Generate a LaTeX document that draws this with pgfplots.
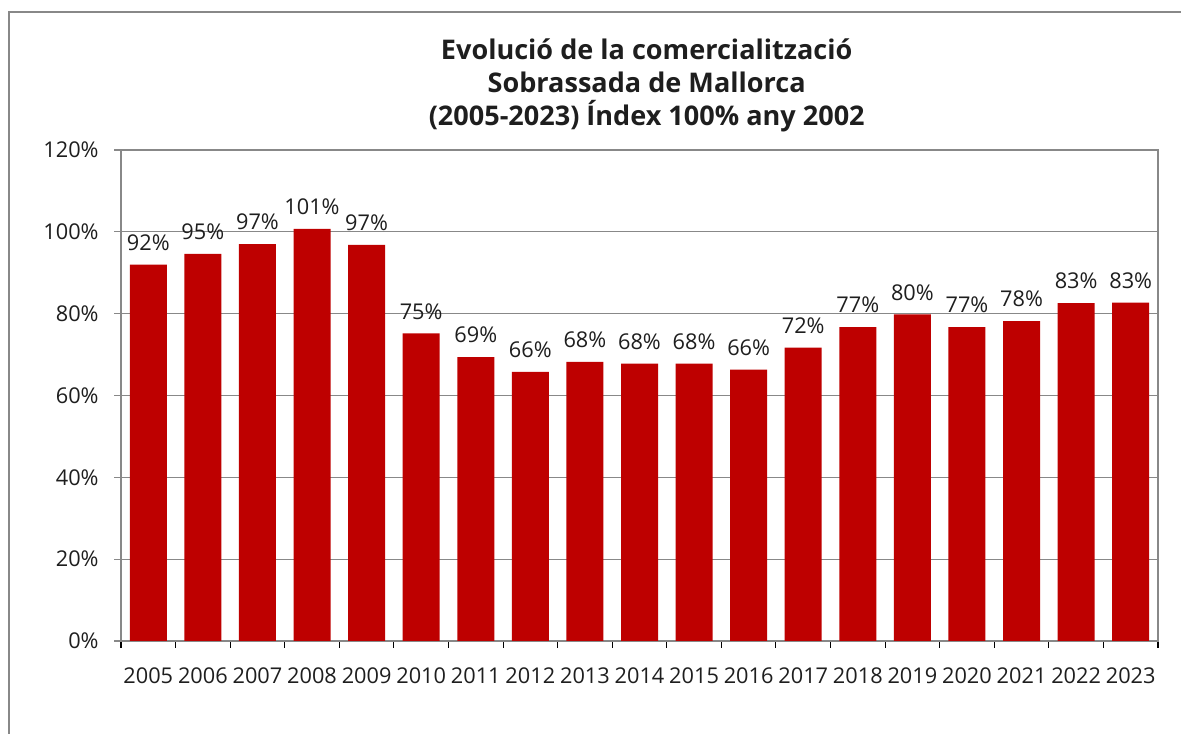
\documentclass[border=0pt]{standalone}
\usepackage{fontspec}
\setmainfont{Open Sans}
\usepackage{pgfplots}
\pgfplotsset{compat=1.18}
\definecolor{barred}{RGB}{190,0,0}
\definecolor{framegray}{RGB}{136,136,136}
\definecolor{txt}{RGB}{30,30,30}
\begin{document}
\begin{tikzpicture}
\useasboundingbox (0,0) rectangle (885.75pt,550.5pt);
\draw[framegray,line width=1.8pt] (6.75pt,0pt) -- (6.75pt,541.5pt) -- (885.75pt,541.5pt);
\node[font=\bfseries\fontsize{20.3}{24.75}\selectfont,align=center,text=txt] at (485pt,486.5pt)
 {Evolució de la comercialització\\Sobrassada de Mallorca\\(2005-2023) Índex 100\% any 2002};
\begin{axis}[
  at={(90.75pt,69.75pt)}, anchor=south west,
  scale only axis, width=777.75pt, height=368.25pt,
  xmin=-0.5, xmax=18.5, ymin=0, ymax=120,
  ytick={0,20,...,120},
  yticklabel={\pgfmathprintnumber{\tick}\%},
  xtick={0,...,18},
  xticklabels={2005,2006,2007,2008,2009,2010,2011,2012,2013,2014,2015,2016,2017,2018,2019,2020,2021,2022,2023},
  minor xtick={-0.5,0.5,...,18.5},
  major x tick style={draw=none},
  minor x tick style={draw=black,line width=0.8pt},
  minor tick length=5.25pt,
  major tick length=5.25pt,
  y tick style={draw=framegray,line width=0.8pt},
  tick align=outside,
  xtick pos=bottom, ytick pos=left,
  ymajorgrids,
  grid style={framegray,line width=0.6pt},
  axis line style={framegray,line width=1.5pt},
  tick label style={font=\fontsize{16.3}{18}\selectfont,text=txt},
  /pgf/number format/assume math mode=true,
  xticklabel style={yshift=-11pt},
  yticklabel style={xshift=-8pt},
]
\addplot[ybar, bar width=27.75pt, fill=barred, draw=none,
  nodes near coords={\pgfmathprintnumber[fixed,precision=0]{\pgfplotspointmeta}\%},
  nodes near coords style={font=\fontsize{16.3}{18}\selectfont,text=txt,yshift=7pt},
] coordinates {
(0,92.0) (1,94.6) (2,97.0) (3,100.7) (4,96.8) (5,75.2) (6,69.4) (7,65.8) (8,68.2) (9,67.8)
(10,67.8) (11,66.3) (12,71.7) (13,76.7) (14,79.8) (15,76.7) (16,78.2) (17,82.6) (18,82.7)
};
\end{axis}
\end{tikzpicture}
\end{document}
